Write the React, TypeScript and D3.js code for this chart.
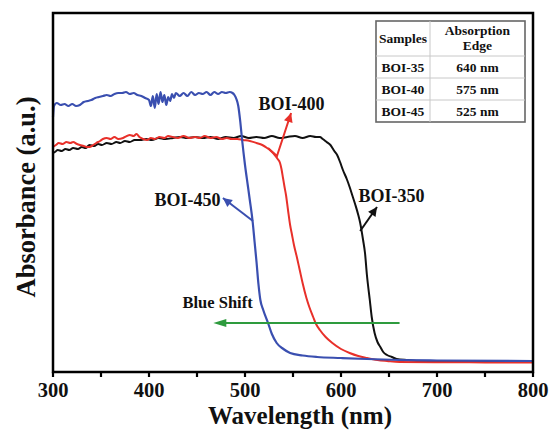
import React from "react";
import * as d3 from "d3";

// ---- data (wavelength nm, absorbance a.u.) ----
const boi350: [number, number][] = [
  [300, 2.19], [302, 2.2], [305, 2.22], [309, 2.21], [313, 2.23], [317, 2.22], [321, 2.24], [326, 2.23],
  [330, 2.25], [334, 2.24], [338, 2.27], [343, 2.26], [347, 2.28], [351, 2.27], [356, 2.29], [361, 2.28],
  [366, 2.3], [370, 2.29], [375, 2.31], [380, 2.3], [385, 2.32], [391, 2.32], [397, 2.33], [403, 2.32],
  [410, 2.34], [417, 2.33], [425, 2.34], [432, 2.35], [440, 2.34], [448, 2.35], [456, 2.34], [464, 2.35],
  [472, 2.33], [480, 2.35], [488, 2.34], [496, 2.36], [504, 2.34], [512, 2.35], [520, 2.34], [528, 2.36],
  [536, 2.34], [544, 2.35], [552, 2.36], [560, 2.34], [568, 2.36], [574, 2.35], [578, 2.35], [581, 2.33],
  [585, 2.3], [589, 2.27], [593, 2.21], [596, 2.17], [599, 2.1], [602, 2.02], [606, 1.93], [609, 1.85],
  [612, 1.76], [615, 1.67], [618, 1.57], [620, 1.49], [623, 1.32], [625, 1.19], [627, 0.97], [630, 0.72],
  [632, 0.55], [635, 0.39], [638, 0.3], [641, 0.25], [644, 0.2], [648, 0.17], [653, 0.15], [658, 0.13],
  [670, 0.12], [682, 0.11], [720, 0.108], [760, 0.106], [800, 0.105],
];

const boi400: [number, number][] = [
  [300, 2.25], [303, 2.27], [306, 2.29], [310, 2.28], [314, 2.3], [318, 2.29], [321, 2.3], [325, 2.28],
  [328, 2.27], [332, 2.26], [335, 2.25], [338, 2.25], [342, 2.27], [345, 2.29], [349, 2.31], [352, 2.33],
  [356, 2.34], [360, 2.33], [364, 2.35], [368, 2.33], [373, 2.34], [377, 2.36], [380, 2.37], [384, 2.36],
  [387, 2.38], [390, 2.35], [394, 2.33], [398, 2.32], [402, 2.34], [406, 2.33], [411, 2.35], [416, 2.34],
  [420, 2.36], [425, 2.35], [430, 2.34], [436, 2.36], [442, 2.34], [448, 2.35], [453, 2.34], [458, 2.36],
  [464, 2.34], [470, 2.35], [476, 2.33], [481, 2.34], [486, 2.33], [492, 2.33], [498, 2.32], [505, 2.31],
  [512, 2.29], [518, 2.27], [523, 2.24], [527, 2.21], [531, 2.17], [534, 2.13], [536.5, 2.09], [538, 2.03],
  [539.6, 1.94], [541, 1.86], [542.7, 1.77], [544.8, 1.62], [547, 1.47], [549, 1.37], [551, 1.27],
  [554, 1.15], [557, 1.02], [560, 0.89], [564, 0.74], [567, 0.65], [571, 0.55], [574, 0.48], [578, 0.42],
  [584, 0.35], [591, 0.29], [600, 0.23], [609, 0.19], [618, 0.16], [627, 0.14], [638, 0.12], [648, 0.11],
  [661, 0.1], [700, 0.097], [750, 0.096], [800, 0.095],
];

const boi450: [number, number][] = [
  [300, 2.55], [301, 2.66], [304, 2.69], [308, 2.67], [312, 2.68], [316, 2.66], [320, 2.68], [324, 2.66],
  [328, 2.67], [332, 2.7], [336, 2.71], [340, 2.72], [344, 2.74], [348, 2.75], [352, 2.76], [356, 2.77],
  [360, 2.76], [364, 2.78], [368, 2.79], [372, 2.79], [376, 2.8], [380, 2.78], [384, 2.79], [388, 2.77],
  [392, 2.76], [396, 2.74], [400, 2.72], [402, 2.66], [404, 2.76], [406, 2.64], [408, 2.78], [410, 2.68],
  [412, 2.8], [414, 2.7], [416, 2.77], [418, 2.67], [420, 2.75], [422, 2.71], [424, 2.78], [426, 2.74],
  [428, 2.79], [432, 2.76], [436, 2.79], [440, 2.76], [444, 2.8], [448, 2.77], [452, 2.79], [456, 2.78],
  [460, 2.8], [464, 2.77], [468, 2.8], [472, 2.78], [476, 2.8], [480, 2.79], [484, 2.8], [487, 2.79],
  [489, 2.77], [491, 2.73], [493, 2.66], [495, 2.51], [497, 2.32], [500, 2.07], [503, 1.86], [505, 1.72],
  [508, 1.5], [510, 1.3], [512, 1.1], [514, 0.88], [516, 0.72], [519, 0.62], [524, 0.49], [528, 0.38],
  [533, 0.29], [540, 0.23], [547, 0.19], [560, 0.165], [575, 0.15], [600, 0.14], [627, 0.13], [661, 0.12],
  [700, 0.115], [800, 0.11],
];

const xTickLabels = [300, 400, 500, 600, 700, 800];
const xMinorTicks = [350, 450, 550, 650, 750];

const tableHeader = ["Samples", "Absorption", "Edge"];
const tableSamples = ["BOI-35", "BOI-40", "BOI-45"];
const tableEdges = ["640 nm", "575 nm", "525 nm"];

// annotations in data units
const labels = [
  { text: "BOI-400", x: 548.4, y: 2.62 },
  { text: "BOI-450", x: 440, y: 1.66 },
  { text: "BOI-350", x: 652.6, y: 1.7 },
];

// ---- layout ----
const W = 550;
const H = 430;
const L = 53, R = 533, T = 13, B = 372;
const FONT = "'Liberation Serif', 'Times New Roman', serif";

export default function App() {
  const x = d3.scaleLinear().domain([300, 800]).range([L, R]);
  const y = d3.scaleLinear().domain([0, 3.59]).range([B, T]);
  const line = d3
    .line<[number, number]>()
    .x((d) => x(d[0]))
    .y((d) => y(d[1]))
    .curve(d3.curveMonotoneX);

  const arrowHead = (x1: number, y1: number, x2: number, y2: number, len: number, half: number) => {
    const dx = x2 - x1, dy = y2 - y1;
    const n = Math.hypot(dx, dy);
    const ux = dx / n, uy = dy / n;
    const bx = x2 - ux * len, by = y2 - uy * len;
    const px = -uy, py = ux;
    return `${x2},${y2} ${bx + px * half},${by + py * half} ${bx - px * half},${by - py * half}`;
  };

  // arrows (data coords)
  const redArrow = [[524, 2.24], [533.3, 2.16], [548, 2.59]].map(([a, b]) => [x(a), y(b)]);
  const blueArrow = [[508.3, 1.51], [477, 1.74]].map(([a, b]) => [x(a), y(b)]);
  const blackArrow = [[620, 1.41], [637.5, 1.65]].map(([a, b]) => [x(a), y(b)]);
  const greenArrow = [[661, 0.49], [467, 0.49]].map(([a, b]) => [x(a), y(b)]);

  // table geometry
  const tx0 = 376, tx1 = 525, tcol = 430;
  const rowsY = [21, 56, 78, 100, 122];

  return (
    <svg width={W} height={H} style={{ position: "absolute", left: 0, top: 0, background: "#fff" }} fontFamily={FONT}>
      <rect x={0} y={0} width={W} height={H} fill="#fff" />
      {/* curves */}
      <path d={line(boi350) || ""} fill="none" stroke="#111" strokeWidth={2} />
      <path d={line(boi400) || ""} fill="none" stroke="#e8302a" strokeWidth={2} />
      <path d={line(boi450) || ""} fill="none" stroke="#3a4fb0" strokeWidth={2.2} />

      {/* frame */}
      <rect x={L} y={T} width={R - L} height={B - T} fill="none" stroke="#000" strokeWidth={2.5} />
      {/* ticks */}
      {[...xTickLabels, ...xMinorTicks].map((t) => (
        <line key={"t" + t} x1={x(t)} x2={x(t)} y1={B} y2={B + 5} stroke="#000" strokeWidth={2.2} />
      ))}
      {xTickLabels.map((t) => (
        <text key={"l" + t} x={x(t)} y={397} textAnchor="middle" fontSize={20.5} fontWeight="bold" fill="#111">
          {t}
        </text>
      ))}
      <text x={300} y={424} textAnchor="middle" fontSize={25} fontWeight="bold" fill="#111">
        Wavelength (nm)
      </text>
      <text transform={`translate(35,197) rotate(-90)`} textAnchor="middle" fontSize={26.5} fontWeight="bold" fill="#111">
        Absorbance (a.u.)
      </text>

      {/* labels */}
      {labels.map((l) => (
        <text key={l.text} x={x(l.x)} y={y(l.y)} textAnchor="middle" fontSize={18} fontWeight="bold" fill="#111">
          {l.text}
        </text>
      ))}

      {/* red arrow */}
      <polyline points={redArrow.map((p) => p.join(",")).join(" ")} fill="none" stroke="#e8302a" strokeWidth={2} />
      <polygon points={arrowHead(redArrow[1][0], redArrow[1][1], redArrow[2][0], redArrow[2][1], 9, 4.5)} fill="#e8302a" />
      {/* blue arrow */}
      <line x1={blueArrow[0][0]} y1={blueArrow[0][1]} x2={blueArrow[1][0]} y2={blueArrow[1][1]} stroke="#3a4fb0" strokeWidth={2} />
      <polygon points={arrowHead(blueArrow[0][0], blueArrow[0][1], blueArrow[1][0], blueArrow[1][1], 9, 4.5)} fill="#3a4fb0" />
      {/* black arrow */}
      <line x1={blackArrow[0][0]} y1={blackArrow[0][1]} x2={blackArrow[1][0]} y2={blackArrow[1][1]} stroke="#111" strokeWidth={2} />
      <polygon points={arrowHead(blackArrow[0][0], blackArrow[0][1], blackArrow[1][0], blackArrow[1][1], 9, 4.5)} fill="#111" />
      {/* green arrow */}
      <line x1={greenArrow[0][0]} y1={greenArrow[0][1]} x2={greenArrow[1][0] + 6} y2={greenArrow[1][1]} stroke="#2e9b3e" strokeWidth={2} />
      <polygon points={arrowHead(greenArrow[0][0], greenArrow[0][1], greenArrow[1][0], greenArrow[1][1], 13, 4)} fill="#2e9b3e" />
      <text x={x(508)} y={y(0.64)} textAnchor="end" fontSize={16.5} fontWeight="bold" fill="#111">
        Blue Shift
      </text>

      {/* table */}
      <g>
        <rect x={tx0} y={rowsY[0]} width={tx1 - tx0} height={rowsY[4] - rowsY[0]} fill="#fff" stroke="#666" strokeWidth={1.6} />
        {rowsY.slice(1, 4).map((ry) => (
          <line key={"r" + ry} x1={tx0} x2={tx1} y1={ry} y2={ry} stroke="#c8c8c8" strokeWidth={1} />
        ))}
        <line x1={tcol} x2={tcol} y1={rowsY[0]} y2={rowsY[4]} stroke="#c8c8c8" strokeWidth={1} />
        <text x={(tx0 + tcol) / 2} y={43} textAnchor="middle" fontSize={13.5} fontWeight="bold" fill="#111">
          {tableHeader[0]}
        </text>
        <text x={(tcol + tx1) / 2} y={35} textAnchor="middle" fontSize={13.5} fontWeight="bold" fill="#111">
          {tableHeader[1]}
        </text>
        <text x={(tcol + tx1) / 2} y={50} textAnchor="middle" fontSize={13.5} fontWeight="bold" fill="#111">
          {tableHeader[2]}
        </text>
        {tableSamples.map((s, i) => (
          <g key={s}>
            <text x={(tx0 + tcol) / 2} y={(rowsY[i + 1] + rowsY[i + 2]) / 2 + 4.5} textAnchor="middle" fontSize={13.5} fontWeight="bold" fill="#111">
              {s}
            </text>
            <text x={(tcol + tx1) / 2} y={(rowsY[i + 1] + rowsY[i + 2]) / 2 + 4.5} textAnchor="middle" fontSize={13.5} fontWeight="bold" fill="#111">
              {tableEdges[i]}
            </text>
          </g>
        ))}
      </g>
    </svg>
  );
}
